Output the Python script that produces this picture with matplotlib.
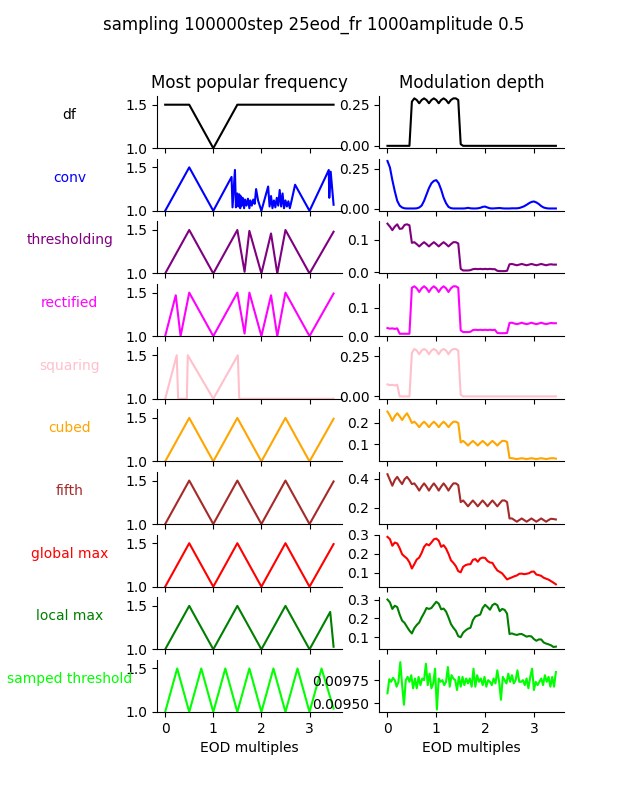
import numpy as np
import matplotlib
matplotlib.use("Agg")
from matplotlib import pyplot as plt

names = ['df', 'conv', 'thresholding', 'rectified', 'squaring',
         'cubed', 'fifth', 'global max', 'local max', 'samped threshold']
colors = ['black', 'blue', 'purple', 'magenta', 'pink',
          'orange', 'brown', 'red', 'green', 'lime']

# most popular frequency (EOD multiples), key points
tri_x = [0, 0.5, 1.0, 1.5, 2.0, 2.5, 3.0, 3.5]
tri_y = [1.0, 1.5, 1.0, 1.5, 1.0, 1.5, 1.0, 1.49]

df_fx = [0, 0.5, 1.0, 1.5, 3.5]
df_fy = [1.5, 1.5, 1.0, 1.5, 1.5]

conv_fx = [0, 0.5, 1.0, 1.38, 1.40, 1.45, 1.47, 1.50, 1.52, 1.54, 1.56, 1.57,
           1.59, 1.61, 1.64, 1.66, 1.69, 1.72, 1.75, 1.77, 1.80, 1.83, 1.86,
           1.89, 1.93, 2.0, 2.14, 2.17, 2.20, 2.23, 2.26, 2.29, 2.32, 2.35,
           2.38, 2.41, 2.44, 2.47, 2.50, 2.53, 2.56, 2.59, 2.62, 2.70, 3.0,
           3.35, 3.40, 3.41, 3.44, 3.5]
conv_fy = [1.0, 1.5, 1.0, 1.39, 1.04, 1.47, 1.04, 1.2, 1.05, 1.19, 1.03, 1.17,
           1.06, 1.15, 1.03, 1.13, 1.06, 1.14, 1.03, 1.12, 1.06, 1.13, 1.08,
           1.25, 1.12, 1.0, 1.28, 1.05, 1.17, 1.03, 1.12, 1.04, 1.15, 1.06,
           1.24, 1.05, 1.2, 1.03, 1.12, 1.05, 1.11, 1.03, 1.1, 1.3, 1.0,
           1.41, 1.47, 1.15, 1.45, 1.07]

thr_fx = [0, 0.5, 1.0, 1.5, 1.65, 1.75, 2.0, 2.2, 2.33, 2.5, 3.0, 3.5]
thr_fy = [1.0, 1.5, 1.0, 1.5, 1.02, 1.49, 1.0, 1.46, 1.0, 1.5, 1.0, 1.48]

rect_fx = [0, 0.22, 0.32, 0.5, 1.0, 1.5, 1.65, 1.75, 2.0, 2.2, 2.33, 2.5, 3.0, 3.5]
rect_fy = [1.0, 1.47, 1.0, 1.5, 1.0, 1.5, 1.03, 1.5, 1.0, 1.47, 1.0, 1.5, 1.0, 1.49]

sq_fx = [0, 0.24, 0.27, 0.45, 0.47, 1.0, 1.51, 1.54, 3.5]
sq_fy = [1.0, 1.5, 1.0, 1.0, 1.5, 1.0, 1.5, 1.0, 1.0]

loc_fx = [0, 0.5, 1.0, 1.5, 2.0, 2.5, 3.0, 3.43, 3.5]
loc_fy = [1.0, 1.5, 1.0, 1.5, 1.0, 1.5, 1.0, 1.43, 1.03]

samp_fx = [0, 0.25, 0.5, 0.75, 1.0, 1.25, 1.5, 1.75, 2.0, 2.25, 2.5, 2.75,
           3.0, 3.25, 3.5]
samp_fy = [1.0, 1.5, 1.0, 1.5, 1.0, 1.5, 1.0, 1.5, 1.0, 1.5, 1.0, 1.5,
           1.0, 1.5, 1.04]

freq_x = [df_fx, conv_fx, thr_fx, rect_fx, sq_fx, tri_x, tri_x, tri_x, loc_fx, samp_fx]
freq_y = [df_fy, conv_fy, thr_fy, rect_fy, sq_fy, tri_y, tri_y, tri_y, loc_fy, samp_fy]

# modulation depth, sampled every 0.05 EOD from 0 to 3.45
mod_x = np.linspace(0, 3.45, 70)

df_md = [0, 0, 0, 0, 0, 0, 0, 0, 0, 0,
         0.27, 0.29, 0.28, 0.26, 0.28, 0.29, 0.28, 0.26, 0.28, 0.29,
         0.28, 0.26, 0.28, 0.29, 0.28, 0.26, 0.28, 0.29, 0.29, 0.28,
         0.01, 0, 0, 0, 0, 0, 0, 0, 0, 0,
         0, 0, 0, 0, 0, 0, 0, 0, 0, 0,
         0, 0, 0, 0, 0, 0, 0, 0, 0, 0,
         0, 0, 0, 0, 0, 0, 0, 0, 0, 0]

conv_md = [0.30, 0.26, 0.18, 0.11, 0.05, 0.02, 0.008, 0.003, 0.002, 0.002,
           0.002, 0.002, 0.003, 0.008, 0.02, 0.05, 0.09, 0.13, 0.16, 0.175,
           0.18, 0.16, 0.12, 0.07, 0.035, 0.012, 0.004, 0.002, 0.002, 0.002,
           0.002, 0.002, 0.003, 0.006, 0.003, 0.002, 0.002, 0.003, 0.006, 0.012,
           0.014, 0.008, 0.003, 0.002, 0.003, 0.004, 0.005, 0.003, 0.002, 0.002,
           0.002, 0.003, 0.003, 0.003, 0.005, 0.01, 0.016, 0.025, 0.035, 0.043,
           0.046, 0.04, 0.03, 0.017, 0.008, 0.004, 0.002, 0.002, 0.002, 0.002]

thr_md = [0.149, 0.14, 0.129, 0.14, 0.147, 0.133, 0.134, 0.145, 0.147, 0.144,
          0.09, 0.092, 0.086, 0.079, 0.086, 0.092, 0.086, 0.079, 0.086, 0.092,
          0.086, 0.079, 0.086, 0.092, 0.086, 0.079, 0.086, 0.092, 0.092, 0.088,
          0.01, 0.005, 0.005, 0.005, 0.006, 0.009, 0.01, 0.009, 0.01, 0.009,
          0.01, 0.009, 0.01, 0.009, 0.009, 0.004, 0.003, 0.003, 0.003, 0.004,
          0.024, 0.025, 0.023, 0.021, 0.023, 0.025, 0.023, 0.021, 0.023, 0.025,
          0.023, 0.021, 0.023, 0.025, 0.023, 0.021, 0.023, 0.024, 0.023, 0.023]

rect_md = [0.028, 0.026, 0.027, 0.025, 0.027, 0.008, 0.008, 0.008, 0.008, 0.008,
           0.17, 0.175, 0.168, 0.155, 0.168, 0.175, 0.168, 0.155, 0.168, 0.175,
           0.168, 0.155, 0.168, 0.175, 0.168, 0.155, 0.168, 0.175, 0.175, 0.17,
           0.02, 0.014, 0.014, 0.014, 0.015, 0.021, 0.022, 0.021, 0.022, 0.021,
           0.022, 0.021, 0.022, 0.021, 0.022, 0.011, 0.01, 0.01, 0.01, 0.011,
           0.046, 0.047, 0.044, 0.042, 0.044, 0.047, 0.044, 0.042, 0.044, 0.047,
           0.044, 0.042, 0.044, 0.047, 0.044, 0.042, 0.044, 0.046, 0.045, 0.045]

sq_md = [0.075, 0.07, 0.072, 0.068, 0.072, 0, 0, 0, 0, 0,
         0.27, 0.295, 0.285, 0.262, 0.285, 0.295, 0.285, 0.262, 0.285, 0.295,
         0.285, 0.262, 0.285, 0.295, 0.285, 0.262, 0.285, 0.295, 0.295, 0.285,
         0.01, 0, 0, 0, 0, 0, 0, 0, 0, 0,
         0, 0, 0, 0, 0, 0, 0, 0, 0, 0,
         0, 0, 0, 0, 0, 0, 0, 0, 0, 0,
         0, 0, 0, 0, 0, 0, 0, 0, 0, 0]

cub_md = [0.254, 0.235, 0.21, 0.232, 0.246, 0.232, 0.214, 0.232, 0.246, 0.225,
          0.2, 0.206, 0.195, 0.18, 0.195, 0.206, 0.195, 0.18, 0.195, 0.206,
          0.195, 0.18, 0.195, 0.206, 0.195, 0.18, 0.195, 0.206, 0.206, 0.2,
          0.108, 0.115, 0.105, 0.093, 0.105, 0.115, 0.105, 0.093, 0.105, 0.115,
          0.105, 0.093, 0.105, 0.115, 0.105, 0.093, 0.105, 0.115, 0.115, 0.11,
          0.034, 0.033, 0.031, 0.029, 0.031, 0.033, 0.031, 0.029, 0.031, 0.033,
          0.031, 0.029, 0.031, 0.033, 0.031, 0.029, 0.031, 0.033, 0.033, 0.031]

fif_md = [0.429, 0.39, 0.351, 0.39, 0.411, 0.385, 0.362, 0.395, 0.411, 0.39,
          0.362, 0.367, 0.345, 0.318, 0.345, 0.367, 0.345, 0.318, 0.345, 0.367,
          0.345, 0.318, 0.345, 0.367, 0.345, 0.318, 0.345, 0.367, 0.367, 0.355,
          0.24, 0.251, 0.232, 0.211, 0.232, 0.251, 0.232, 0.211, 0.232, 0.251,
          0.232, 0.211, 0.232, 0.251, 0.232, 0.211, 0.232, 0.251, 0.251, 0.24,
          0.129, 0.129, 0.118, 0.107, 0.118, 0.129, 0.118, 0.107, 0.118, 0.129,
          0.118, 0.107, 0.118, 0.129, 0.118, 0.107, 0.118, 0.127, 0.125, 0.122]

glob_md = [0.29, 0.278, 0.243, 0.26, 0.255, 0.23, 0.198, 0.186, 0.175, 0.155,
           0.122, 0.145, 0.17, 0.18, 0.205, 0.237, 0.252, 0.245, 0.26, 0.277,
           0.281, 0.27, 0.237, 0.246, 0.228, 0.2, 0.166, 0.152, 0.135, 0.108,
           0.102, 0.131, 0.14, 0.144, 0.145, 0.168, 0.172, 0.158, 0.175, 0.18,
           0.178, 0.162, 0.154, 0.152, 0.13, 0.112, 0.104, 0.096, 0.08, 0.064,
           0.07, 0.075, 0.081, 0.085, 0.094, 0.095, 0.092, 0.094, 0.097, 0.105,
           0.106, 0.09, 0.087, 0.083, 0.073, 0.068, 0.063, 0.055, 0.047, 0.038]

loc_md = [0.3, 0.285, 0.25, 0.267, 0.26, 0.22, 0.188, 0.176, 0.155, 0.135,
          0.12, 0.148, 0.165, 0.178, 0.205, 0.228, 0.255, 0.25, 0.255, 0.272,
          0.288, 0.278, 0.248, 0.252, 0.236, 0.205, 0.17, 0.15, 0.134, 0.105,
          0.1, 0.124, 0.136, 0.145, 0.15, 0.19, 0.21, 0.215, 0.22, 0.255,
          0.272, 0.26, 0.246, 0.27, 0.278, 0.27, 0.238, 0.25, 0.245, 0.225,
          0.117, 0.12, 0.115, 0.112, 0.116, 0.117, 0.11, 0.103, 0.106, 0.104,
          0.09, 0.081, 0.088, 0.088, 0.072, 0.066, 0.062, 0.057, 0.048, 0.05]

# samped threshold is noisier, read on its own finer grid
samp_md = [0.009607, 0.009761, 0.009732, 0.009775, 0.00975, 0.009679, 0.009732, 0.009946, 0.009696, 0.009482,
           0.00975, 0.009786, 0.009732, 0.009804, 0.009661, 0.009768, 0.009661, 0.009786, 0.009696, 0.009768,
           0.00975, 0.009929, 0.009696, 0.009821, 0.009661, 0.009714, 0.009875, 0.009429, 0.009768, 0.009732,
           0.00975, 0.009696, 0.009732, 0.009893, 0.009679, 0.009804, 0.009768, 0.00975, 0.009643, 0.009786,
           0.009679, 0.009786, 0.009696, 0.009768, 0.009714, 0.009768, 0.009679, 0.009875, 0.009679, 0.009804,
           0.009732, 0.009768, 0.009696, 0.009786, 0.009679, 0.00975, 0.009732, 0.009696, 0.009768, 0.009714,
           0.009857, 0.009732, 0.009536, 0.009786, 0.00975, 0.009714, 0.009821, 0.009732, 0.009804, 0.009714,
           0.00975, 0.009857, 0.009732, 0.009732, 0.00975, 0.009696, 0.009768, 0.009661, 0.009786, 0.009875,
           0.009643, 0.009732, 0.009696, 0.009732, 0.009768, 0.009696, 0.009804, 0.009732, 0.009786, 0.009679,
           0.009786, 0.009679, 0.009839]
samp_mx = np.linspace(0, 3.45, len(samp_md))

mod_x_all = [mod_x] * 9 + [samp_mx]
mod_y_all = [df_md, conv_md, thr_md, rect_md, sq_md, cub_md, fif_md, glob_md, loc_md, samp_md]

fig, axes = plt.subplots(10, 2, figsize=(6.27, 8), sharex='col')
fig.subplots_adjust(left=0.25)
fig.suptitle('sampling 100000step 25eod_fr 1000amplitude 0.5')

for i in range(10):
    ax_f = axes[i, 0]
    ax_m = axes[i, 1]
    ax_f.plot(freq_x[i], freq_y[i], color=colors[i])
    ax_f.set_ylim(1, 1.6)
    ax_m.plot(mod_x_all[i], mod_y_all[i], color=colors[i])
    for ax in (ax_f, ax_m):
        ax.spines['top'].set_visible(False)
        ax.spines['right'].set_visible(False)
    ax_f.text(-0.47, 0.5, names[i], color=colors[i], transform=ax_f.transAxes,
              ha='center', va='bottom')

axes[0, 0].set_title('Most popular frequency')
axes[0, 1].set_title('Modulation depth')
axes[-1, 0].set_xlabel('EOD multiples')
axes[-1, 1].set_xlabel('EOD multiples')

plt.savefig('out.png')
